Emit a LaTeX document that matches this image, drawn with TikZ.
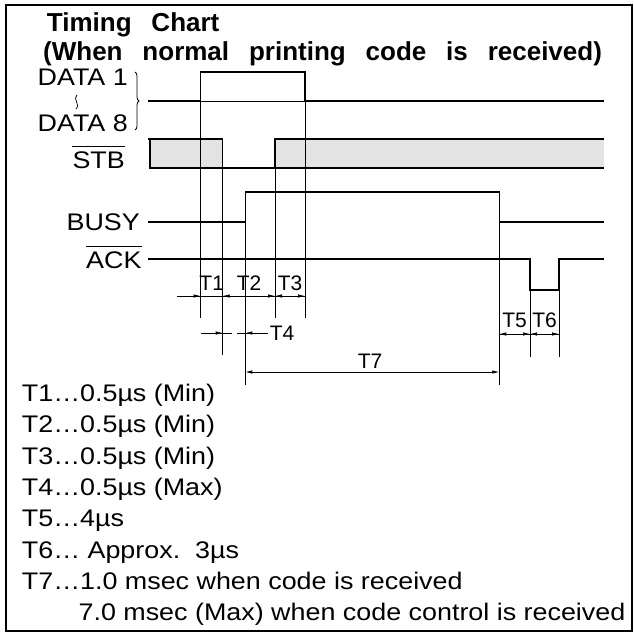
\documentclass[tikz,border=0pt]{standalone}
\usepackage{fontspec}
\setmainfont{Liberation Sans}
\newfontfamily\bodyfont{Liberation Sans}[FakeStretch=1.12]
\newfontfamily\titlefont{Liberation Sans}[WordSpace=2.75]
\usetikzlibrary{arrows.meta,decorations.pathreplacing}

\begin{document}
\begin{tikzpicture}[x=1pt,y=-1pt,
  sig/.style={line width=1.4pt, line join=miter},
  guide/.style={line width=0.7pt},
  dim/.style={line width=0.7pt},
  tip/.style={-{Latex[length=7pt,width=3.4pt]}, line width=0.7pt},
  dbltip/.style={{Latex[length=7pt,width=3.4pt]}-{Latex[length=7pt,width=3.4pt]}, line width=0.7pt},
  lbl/.style={inner sep=0pt, font={\bodyfont\fontsize{24}{28}\selectfont}},
  tl/.style={inner sep=0pt, font={\fontsize{21}{24}\selectfont}},
  ttl/.style={inner sep=0pt, anchor=base west, font={\titlefont\bfseries\fontsize{26}{30}\selectfont}},
  ]
\useasboundingbox (0,0) rectangle (634,634);
\draw[line width=1.3pt] (6,5) rectangle (632,631);

% title
\node[ttl] (title1) at (46.7,31.7) {Timing Chart};
\node[ttl] (title2) at (43,60) {(When normal printing code is received)};

% signal names
\node[lbl, anchor=base east] (d1) at (128,85) {DATA 1};
\node[lbl, anchor=base east] (d8) at (128,131.7) {DATA 8};
\draw[line width=0.7pt] (77,95) .. controls (72,99) and (81,104) .. (76,109);
\draw[line width=0.8pt, decorate, decoration={brace, amplitude=4pt}] (135,72) -- (135,130);
\node[lbl, anchor=base east] (stb) at (125,168) {STB};
\draw[line width=1pt] ([yshift=5pt]stb.north west) -- ([yshift=5pt]stb.north east);
\node[lbl, anchor=base east] (busy) at (140,230.6) {BUSY};
\node[lbl, anchor=base east] (ack) at (141.7,268) {ACK};
\draw[line width=1pt] ([yshift=5pt]ack.north west) -- ([yshift=5pt]ack.north east);

% STB gray areas
\fill[gray!22] (150,139) rectangle (222.7,168);
\fill[gray!22] (275,139) rectangle (604,168);

% guide lines
\draw[guide] (200.7,72) -- (200.7,318);
\draw[guide] (222.7,139) -- (222.7,355);
\draw[guide] (245.3,192) -- (245.3,385);
\draw[guide] (275,139) -- (275,318);
\draw[guide] (305,72) -- (305,318);
\draw[guide] (499.3,192) -- (499.3,385);
\draw[guide] (530,290) -- (530,357);
\draw[guide] (559,290) -- (559,357);

% DATA
\draw[guide] (200.7,101) -- (305,101);
\draw[sig] (148,101) -- (200.7,101) -- (200.7,72) -- (305,72) -- (305,101) -- (604,101);
% STB
\draw[sig] (148,139) -- (222.7,139) -- (222.7,168) -- (275,168) -- (275,139) -- (604,139);
\draw[line width=1.1pt] (150,139) -- (150,168) -- (222.7,168);
\draw[line width=1.1pt] (275,168) -- (604,168);
% BUSY
\draw[sig] (148,222) -- (245.3,222) -- (245.3,192) -- (499.3,192) -- (499.3,222) -- (604,222);
% ACK
\draw[sig] (148,259) -- (530,259) -- (530,290) -- (559,290) -- (559,259) -- (604,259);

% T1..T3
\draw[dim] (177,296) -- (305,296);
\draw[tip] (188,296) -- (200.7,296);
\draw[tip] (234,296) -- (222.7,296);
\draw[tip] (264,296) -- (275,296);
\draw[tip] (286,296) -- (275,296);
\draw[tip] (294,296) -- (305,296);
\node[tl] (t1) at (211.7,283) {T1};
\node[tl] (t2) at (249,283) {T2};
\node[tl] (t3) at (290,283) {T3};

% T4
\draw[dim] (200.7,333) -- (232,333);
\draw[tip] (208,333) -- (222.7,333);
\draw[dim] (237,333) -- (268,333);
\draw[tip] (258,333) -- (245.3,333);
\node[tl] (t4) at (282,333) {T4};

% T7
\draw[dbltip] (245.3,372) -- (499.3,372);
\node[tl] (t7) at (370,361) {T7};

% T5, T6
\draw[dim] (499.3,334) -- (559,334);
\draw[tip] (510,334) -- (499.3,334);
\draw[tip] (519,334) -- (530,334);
\draw[tip] (541,334) -- (530,334);
\draw[tip] (548,334) -- (559,334);
\node[tl] (t5) at (514.6,320) {T5};
\node[tl] (t6) at (544.5,320) {T6};

% legend
\node[lbl, anchor=base west] (l1) at (21.7,401.5) {T1…0.5µs (Min)};
\node[lbl, anchor=base west] (l2) at (21.7,432.8) {T2…0.5µs (Min)};
\node[lbl, anchor=base west] (l3) at (21.7,464.1) {T3…0.5µs (Min)};
\node[lbl, anchor=base west] (l4) at (21.7,495.4) {T4…0.5µs (Max)};
\node[lbl, anchor=base west] (l5) at (21.7,526.7) {T5…4µs};
\node[lbl, anchor=base west] (l6) at (21.7,558) {T6… Approx.~~3µs};
\node[lbl, anchor=base west] (l7) at (21.7,589.3) {T7…1.0 msec when code is received};
\node[lbl, anchor=base west] (l8) at (78.4,620.6) {7.0 msec (Max) when code control is received};
\end{tikzpicture}
\end{document}
